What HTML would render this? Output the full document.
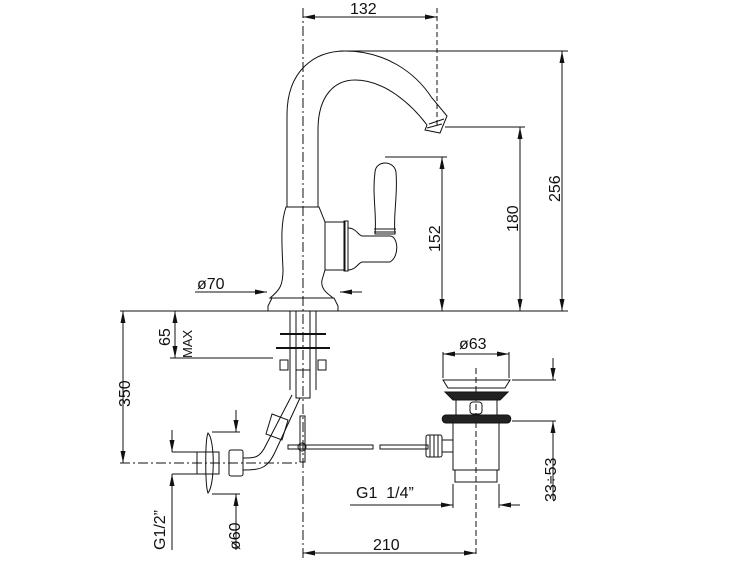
<!DOCTYPE html>
<html><head><meta charset="utf-8"><style>
html,body{margin:0;padding:0;background:#fff}
svg{display:block}
text{font-family:"Liberation Sans",sans-serif;font-size:16px;fill:#111}
</style></head><body>
<svg width="750" height="563" viewBox="0 0 750 563" xmlns="http://www.w3.org/2000/svg">
<defs>
<marker id="a" viewBox="0 0 12 5" refX="12" refY="2.5" markerWidth="12" markerHeight="5" orient="auto-start-reverse" markerUnits="userSpaceOnUse"><path d="M0,0 L12,2.5 L0,5 z" fill="#111"/></marker>
</defs>
<g stroke="#111" fill="none" stroke-width="1">
<line x1="303" y1="8" x2="303" y2="560" stroke-dasharray="10,3,2,3"/>
<line x1="437" y1="8" x2="437" y2="125" stroke-dasharray="5,3"/>
<line x1="120" y1="463" x2="300" y2="463" stroke-dasharray="10,3,2,3"/>
<line x1="476" y1="368" x2="476" y2="556" stroke-dasharray="6,3"/>
<line x1="303" y1="17" x2="437" y2="17" marker-start="url(#a)" marker-end="url(#a)"/>
<line x1="120" y1="311" x2="568" y2="311"/>
<line x1="340" y1="51" x2="568" y2="51"/>
<line x1="562" y1="51" x2="562" y2="311" marker-start="url(#a)" marker-end="url(#a)"/>
<line x1="445" y1="127" x2="525" y2="127"/>
<line x1="520" y1="127" x2="520" y2="311" marker-start="url(#a)" marker-end="url(#a)"/>
<line x1="385" y1="157" x2="447" y2="157"/>
<line x1="442" y1="157" x2="442" y2="311" marker-start="url(#a)" marker-end="url(#a)"/>
<line x1="195" y1="292" x2="267" y2="292" marker-end="url(#a)"/>
<line x1="362" y1="292" x2="340" y2="292" marker-end="url(#a)"/>
<!-- spout -->
<path d="M287,207 L287,115 C287,70 315,51 345,51 C385,51 415,72 432,98 L447,116 L440,133 L425,130 L427,125 C412,105 385,80 355,80 C335,80 318,95 318,130 L318,207"/>
<path d="M429,124 L444,119 M427,128 L442,124"/>
<!-- body -->
<path d="M286,207 L319,207 L325,222 L325,270 L322,280 C320,290 330,295 333,298 L270,298 C280,290 283,285 283,270 C282,245 280,225 286,207 Z"/>
<path d="M325,222 L345,222 L345,270 L325,270"/>
<rect x="344" y="221" width="4" height="50"/>
<path d="M348,228 C356,228 358,235 362,236 L390,236 C398,236 400,256 390,262 L362,262 C358,263 356,270 348,270"/>
<path d="M375,234 C377,215 372,195 375,172 C376,160 394,160 396,172 C398,195 393,215 395,234 Z"/>
<path d="M374,229 L396,229 M374,232 L396,232"/>
<path d="M268,306 L272,298 L334,298 L338,306 L338,311 L268,311 Z"/>
<path d="M290,311 L290,390 M296,311 L296,395 M310,311 L310,395 M316,311 L316,390"/>
<line x1="280" y1="334" x2="326" y2="334" stroke-width="2"/>
<line x1="276" y1="348" x2="330" y2="348" stroke-width="2"/>
<rect x="280" y="360" width="8" height="10"/><rect x="318" y="360" width="8" height="10"/>
<rect x="296" y="370" width="14" height="28"/>
<line x1="170" y1="358" x2="273" y2="358"/>
<line x1="175" y1="311" x2="175" y2="358" marker-start="url(#a)" marker-end="url(#a)"/>
<line x1="123" y1="311" x2="123" y2="463" marker-start="url(#a)" marker-end="url(#a)"/>
<path d="M292,395 L266,445 C260,458 255,458 243,458 M300,398 L276,450 C268,468 262,470 243,470"/>
<path d="M272,414 L288,420 L282,440 L266,434 Z"/>
<rect x="197" y="452" width="22" height="22"/>
<path d="M208,433 C215,440 215,485 208,493 C205,485 205,440 208,433 Z"/>
<rect x="229" y="450" width="14" height="26" rx="2"/>
<line x1="172" y1="452" x2="197" y2="452"/><line x1="172" y1="474" x2="197" y2="474"/>
<line x1="172" y1="430" x2="172" y2="452" marker-end="url(#a)"/>
<line x1="172" y1="495" x2="172" y2="474" marker-end="url(#a)"/>
<line x1="172" y1="474" x2="172" y2="550"/>
<line x1="212" y1="432" x2="240" y2="432"/><line x1="212" y1="494" x2="240" y2="494"/>
<line x1="236" y1="410" x2="236" y2="432" marker-end="url(#a)"/>
<line x1="236" y1="550" x2="236" y2="494" marker-end="url(#a)"/>
<rect x="288" y="445" width="85" height="4"/>
<rect x="380" y="445" width="48" height="4"/>
<rect x="300" y="416" width="5" height="46"/>
<circle cx="302" cy="447" r="4"/>
<line x1="303" y1="553" x2="476" y2="553" marker-start="url(#a)" marker-end="url(#a)"/>
<path d="M443,380 L510,380 L505,388 L448,388 Z"/>
<path d="M445,392 L508,392 L500,400 L453,400 Z" fill="#222"/>
<path d="M456,400 L456,415 M497,400 L497,415"/>
<rect x="470" y="402" width="12" height="12" rx="3"/>
<path d="M446,415 L507,415 C512,415 512,423 507,423 L446,423 C441,423 441,415 446,415 Z" fill="#222"/>
<path d="M453,423 L453,470 L499,470 L499,423"/>
<rect x="455" y="470" width="42" height="12"/>
<rect x="426" y="435" width="16" height="22" rx="2"/>
<path d="M430,435 v22 M434,435 v22 M438,435 v22"/>
<path d="M442,440 L453,440 M442,452 L453,452"/>
<line x1="443" y1="352" x2="443" y2="378"/><line x1="509" y1="352" x2="509" y2="378"/>
<line x1="443" y1="354" x2="509" y2="354" marker-start="url(#a)" marker-end="url(#a)"/>
<line x1="512" y1="380" x2="556" y2="380"/><line x1="512" y1="421" x2="556" y2="421"/>
<line x1="553" y1="358" x2="553" y2="380" marker-end="url(#a)"/>
<line x1="553" y1="500" x2="553" y2="421" marker-end="url(#a)"/>
<line x1="453" y1="484" x2="453" y2="508"/><line x1="499" y1="484" x2="499" y2="508"/>
<line x1="350" y1="505" x2="453" y2="505" marker-end="url(#a)"/>
<line x1="520" y1="505" x2="499" y2="505" marker-end="url(#a)"/>
</g>
<text x="350" y="14">132</text>
<text x="197" y="289">ø70</text>
<text x="356" y="498">G1&#160;&#160;1/4”</text>
<text x="373" y="550">210</text>
<text x="459" y="349">ø63</text>
<text transform="translate(560,202) rotate(-90)">256</text>
<text transform="translate(518,232) rotate(-90)">180</text>
<text transform="translate(440,252) rotate(-90)">152</text>
<text transform="translate(130,407) rotate(-90)">350</text>
<text transform="translate(170,346) rotate(-90)">65</text>
<text transform="translate(192,358) rotate(-90)" style="font-size:13px">MAX</text>
<text transform="translate(165,550) rotate(-90)">G1/2”</text>
<text transform="translate(240,550) rotate(-90)">ø60</text>
<text transform="translate(556,502) rotate(-90)">33÷53</text>
</svg>
</body></html>
